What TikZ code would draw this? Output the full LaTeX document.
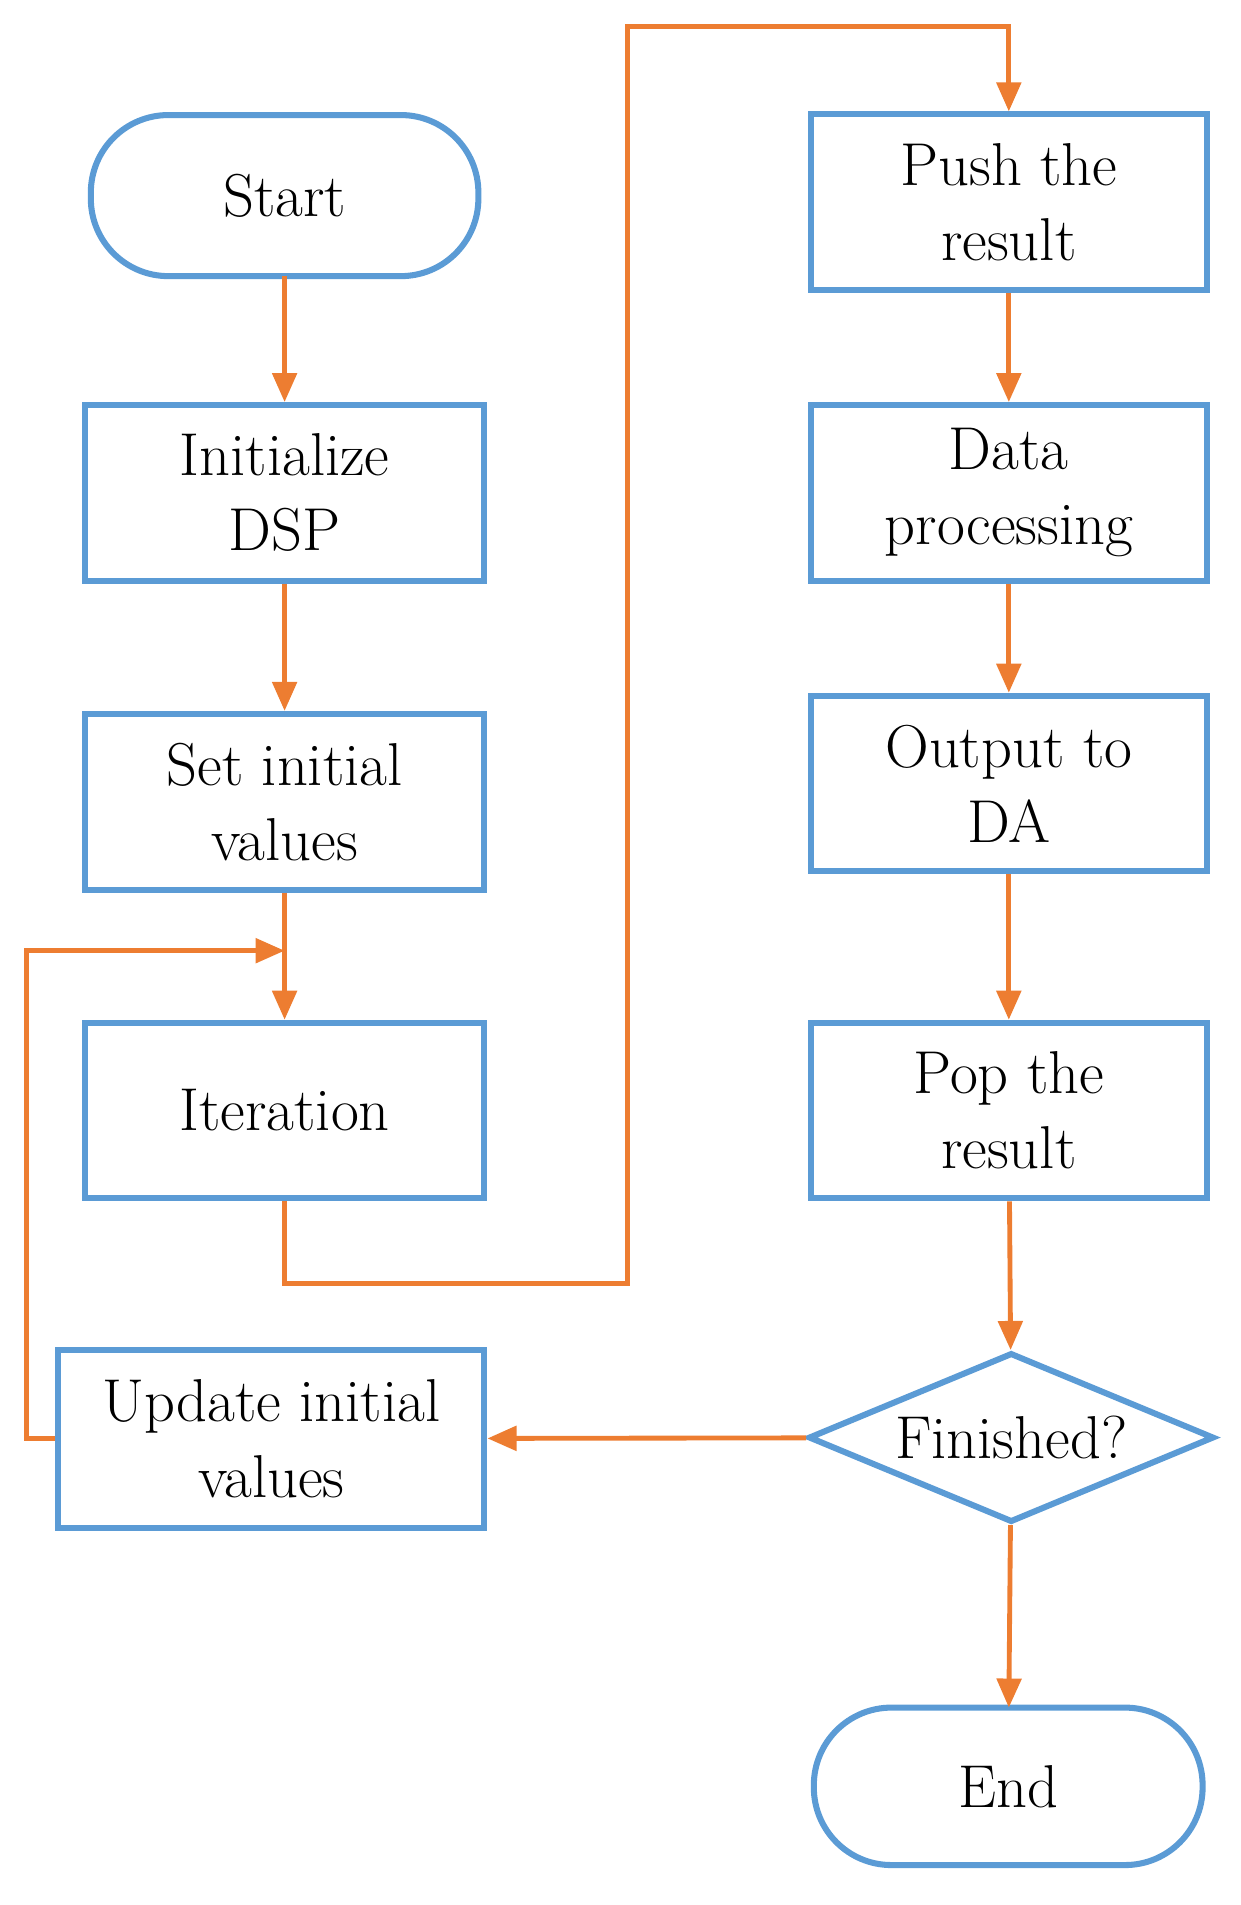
\documentclass[tikz,border=0pt]{standalone}
\usetikzlibrary{shapes.geometric,arrows.meta}
\definecolor{bl}{RGB}{91,155,213}
\definecolor{or}{RGB}{237,125,49}
\begin{document}
\begin{tikzpicture}[x=0.5pt,y=-0.5pt,
  font=\fontsize{25}{31}\selectfont,
  box/.style={draw=bl,line width=2.5pt,rectangle,align=center,inner sep=0pt},
  term/.style={draw=bl,line width=2.5pt,rounded rectangle,align=center,inner sep=0pt},
  dia/.style={draw=bl,line width=2.5pt,diamond,aspect=2.4,inner sep=0pt,minimum width=335*0.5pt,minimum height=140*0.5pt},
  ar/.style={draw=or,line width=2pt,-{Triangle[length=12pt,width=10pt]}},
  ln/.style={draw=or,line width=2pt}]
\useasboundingbox (0,0) rectangle (1024,1573);
\usetikzlibrary{shapes.misc}
\node[box,minimum width=330*0.5pt,minimum height=145*0.5pt] (init) at (235,407) {Initialize\\DSP};
\node[box,minimum width=330*0.5pt,minimum height=145*0.5pt] (set) at (235,662) {Set initial\\values};
\node[box,minimum width=330*0.5pt,minimum height=145*0.5pt] (iter) at (235,917) {Iteration};
\node[box,minimum width=352*0.5pt,minimum height=147*0.5pt] (upd) at (224,1188) {Update initial\\values};
\node[box,minimum width=327*0.5pt,minimum height=145*0.5pt] (push) at (833,167) {Push the\\result};
\node[box,minimum width=327*0.5pt,minimum height=145*0.5pt] (data) at (833,407) {Data\\processing};
\node[box,minimum width=327*0.5pt,minimum height=145*0.5pt] (out) at (833,647) {Output to\\DA};
\node[box,minimum width=327*0.5pt,minimum height=145*0.5pt] (pop) at (833,917) {Pop the\\result};
\node[draw=bl,line width=2.5pt,diamond,aspect=2.4,inner sep=0pt,minimum width=335*0.5pt,minimum height=140*0.5pt] (fin) at (835,1187) {};
\node at (fin) {Finished?};
\draw[draw=bl,line width=2.5pt,rounded corners=32pt] (75,95) rectangle (395,228);
\node (start) at (235,162) {Start};
\coordinate (startb) at (235,228);
\draw[draw=bl,line width=2.5pt,rounded corners=32pt] (672,1410) rectangle (993,1540);
\node (endn) at (833,1475) {End};
\coordinate (endt) at (833,1410);
\draw[ar] (startb) -- (init);
\draw[ar] (init) -- (set);
\draw[ar] (set) -- (iter);
\draw[ar] (iter.south) -- (235,1060) -- (518,1060) -- (518,22) -- (833,22) -- (push.north);
\draw[ar] (push) -- (data);
\draw[ar] (data) -- (out);
\draw[ar] (out) -- (pop);
\draw[ar] (pop) -- (fin);
\draw[ar] (fin) -- (upd);
\draw[ar] (fin) -- (endt);
\coordinate (m) at (235,785);
\draw[ar] (upd.west) -- (22,1188) -- (22,785) -- (m);
\end{tikzpicture}
\end{document}
